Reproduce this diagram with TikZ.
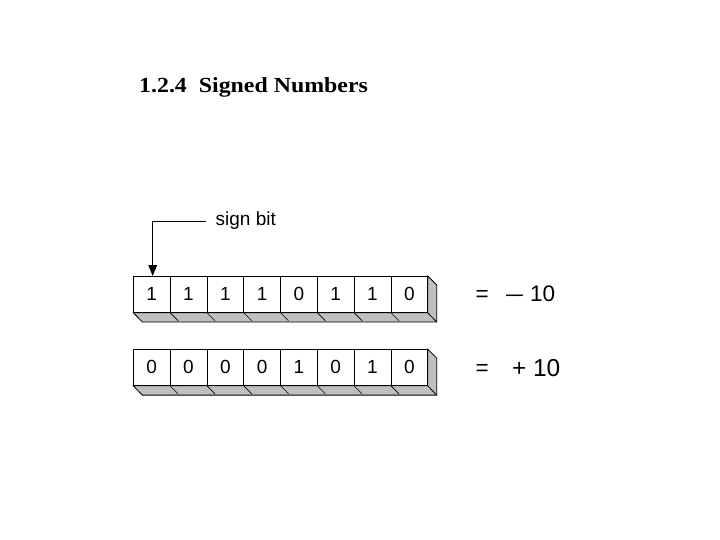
\documentclass[tikz,border=0pt]{standalone}
\usepackage{fontspec}
\setmainfont{Liberation Serif}
\setsansfont{Liberation Sans}
\begin{document}
\begin{tikzpicture}[x=1pt,y=-1pt,
  bitbox/.style={draw=black,line width=0.8pt,fill=white,inner sep=0pt,
    minimum width=36.8pt,minimum height=36.7pt,
    font=\sffamily\fontsize{19}{19}\selectfont},
  shade3d/.style={draw=black,line width=0.8pt,fill=black!25},
  eqtext/.style={inner sep=0pt,anchor=base west,font=\sffamily\fontsize{22.5}{22.5}\selectfont},
  labeltext/.style={inner sep=0pt,font=\sffamily\fontsize{19}{19}\selectfont},
  connector/.style={draw=black,line width=0.8pt}
]
\useasboundingbox (0,0) rectangle (720,540);

% title
\node[anchor=base west,inner sep=0pt,font=\rmfamily\bfseries\fontsize{21.5}{21.5}\selectfont]
  (title) at (139,92.7) {\scalebox{1.11}[1]{1.2.4\ \ Signed Numbers}};

% row 1 3D shadow
\path[shade3d] (133.3,312.7) -- (142.3,322) -- (436.7,322) -- (436.7,285) -- (427.7,276) -- (427.7,312.7) -- cycle;
\draw[line width=0.8pt] (427.7,312.7) -- (436.7,322);
\foreach \i in {1,...,7}{
  \draw[line width=0.6pt] ({133.3+\i*36.8},312.7) -- ++(8,8);
}
\foreach \b [count=\i from 0] in {1,1,1,1,0,1,1,0}{
  \node[bitbox] (a\i) at ({151.7+\i*36.8},294.35) {\b};
}

% row 2 3D shadow
\begin{scope}[yshift=-73.1pt]
\path[shade3d] (133.3,312.7) -- (142.3,322) -- (436.7,322) -- (436.7,285) -- (427.7,276) -- (427.7,312.7) -- cycle;
\draw[line width=0.8pt] (427.7,312.7) -- (436.7,322);
\foreach \i in {1,...,7}{
  \draw[line width=0.6pt] ({133.3+\i*36.8},312.7) -- ++(8,8);
}
\foreach \b [count=\i from 0] in {0,0,0,0,1,0,1,0}{
  \node[bitbox] (b\i) at ({151.7+\i*36.8},294.35) {\b};
}
\end{scope}

% sign bit label and arrow
\node[labeltext,anchor=base west] (sign) at (215.5,225.7) {sign bit};
\coordinate (corner) at (152.7,221);
\coordinate (lineend) at (205.5,221);
\draw[connector] (lineend) -- (corner) -- (152.7,266);
\fill[black] (148.2,265) -- (157.2,265) -- (152.7,276) -- cycle;

% equations
\node[eqtext] (eq1) at (475.5,301.4) {=};
\node[eqtext] (val1) at (506,301.7) {\scalebox{1.35}[1]{–}\hspace{7pt}10};
\node[eqtext] (eq2) at (475.5,375.1) {=};
\node[eqtext,font=\sffamily\fontsize{24.5}{24.5}\selectfont] (val2) at (511.8,376) {+ 10};
\end{tikzpicture}
\end{document}
